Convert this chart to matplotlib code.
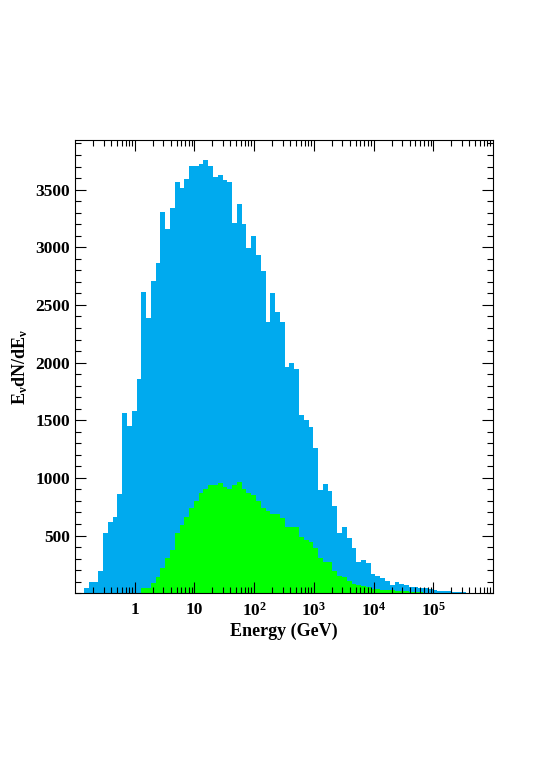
import numpy as np
import matplotlib
matplotlib.use('Agg')
import matplotlib.pyplot as plt
from matplotlib.ticker import FixedLocator, FixedFormatter, MultipleLocator, LogLocator, NullFormatter

plt.rcParams['font.family'] = 'Liberation Serif'
plt.rcParams['font.weight'] = 'bold'
plt.rcParams['mathtext.fontset'] = 'custom'
plt.rcParams['mathtext.rm'] = 'Liberation Serif:bold'
plt.rcParams['mathtext.it'] = 'Liberation Serif:bold'

# histogram in log10(E), bin width 0.08 decade
log_start = -0.85
bin_width = 0.08

# all neutrinos (blue)
all_counts = [43, 95, 95, 196, 518, 620, 663, 864, 1562, 1446,
              1576, 1858, 2613, 2383, 2708, 2867, 3304, 3155, 3342, 3564,
              3515, 3593, 3708, 3708, 3722, 3760, 3702, 3610, 3630, 3587,
              3564, 3212, 3379, 3198, 2996, 3097, 2930, 2794, 2354, 2602,
              2440, 2354, 1959, 1994, 1945, 1541, 1498, 1441, 1262, 897,
              951, 885, 760, 518, 572, 475, 392, 272, 284, 259,
              166, 152, 130, 106, 67, 101, 78, 67, 54, 54,
              43, 43, 37, 25, 20, 18, 15, 12, 8, 6,
              4, 3, 2]

# selected subset (green)
sel_counts = [0, 0, 0, 0, 0, 0, 0, 0, 0, 0,
              0, 0, 43, 43, 86, 144, 216, 302, 374, 518,
              590, 663, 735, 798, 870, 907, 936, 936, 959, 922,
              907, 936, 965, 907, 873, 855, 798, 735, 711, 683,
              683, 648, 576, 576, 576, 490, 461, 447, 395, 302,
              274, 274, 190, 150, 140, 110, 80, 70, 60, 50,
              40, 35, 30, 30, 25, 20, 20, 15, 12, 10,
              8, 5, 4, 3, 2, 1, 0, 0, 0, 0,
              0, 0, 0]

xtick_vals = [1, 10, 1e2, 1e3, 1e4, 1e5]
xtick_labels = ['1', '10', r'10$^{2}$', r'10$^{3}$', r'10$^{4}$', r'10$^{5}$']
ytick_vals = [500, 1000, 1500, 2000, 2500, 3000, 3500]

edges = 10 ** (log_start + bin_width * np.arange(len(all_counts) + 1))

fig = plt.figure(figsize=(5.4, 7.8), dpi=100)
ax = fig.add_axes([0.139, 0.2395, 0.774, 0.581])

ax.stairs(all_counts, edges, fill=True, color='#00aaee', linewidth=0)
ax.stairs(sel_counts, edges, fill=True, color='#00ff00', linewidth=0)

ax.set_xscale('log')
ax.set_xlim(0.1, 1e6)
ax.set_ylim(0, 3930)

ax.xaxis.set_major_locator(FixedLocator(xtick_vals))
ax.xaxis.set_major_formatter(FixedFormatter(xtick_labels))
ax.xaxis.set_minor_locator(LogLocator(base=10, subs=np.arange(2, 10), numticks=20))
ax.xaxis.set_minor_formatter(NullFormatter())
ax.yaxis.set_major_locator(FixedLocator(ytick_vals))
ax.yaxis.set_minor_locator(MultipleLocator(100))

ax.tick_params(which='both', direction='in', top=True, right=True, labelsize=12.5, width=0.8)
ax.tick_params(which='major', length=8)
ax.tick_params(which='minor', length=4)
ax.tick_params(axis='x', pad=6)

for s in ax.spines.values():
    s.set_linewidth(0.8)

ax.set_xlabel('Energy (GeV)', fontsize=13, fontweight='bold', labelpad=2)
ax.set_ylabel(r'E$_{\nu}$dN/dE$_{\nu}$', fontsize=13, fontweight='bold', labelpad=4)

fig.savefig('out.png', dpi=100)
